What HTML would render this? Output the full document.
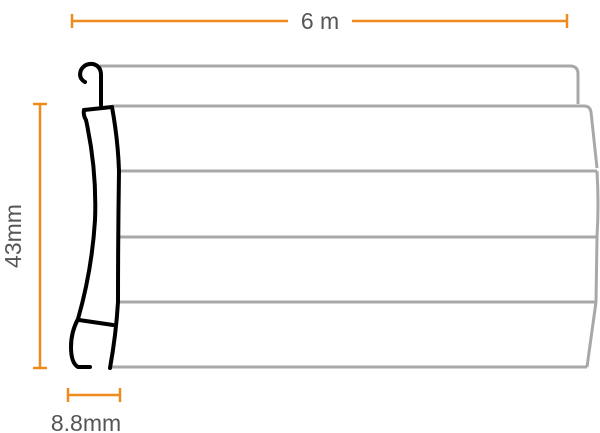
<!DOCTYPE html>
<html><head><style>html,body{margin:0;padding:0;background:#fff}svg{display:block}</style></head>
<body>
<svg width="600" height="433" viewBox="0 0 600 433" xmlns="http://www.w3.org/2000/svg">
<g stroke="#f08a1c" stroke-width="2.5" fill="none">
<line x1="72" y1="21" x2="288" y2="21"/><line x1="72" y1="14" x2="72" y2="28"/>
<line x1="352" y1="21" x2="567" y2="21"/><line x1="567" y1="14" x2="567" y2="28"/>
<line x1="40" y1="104" x2="40" y2="368"/><line x1="33" y1="104" x2="47" y2="104"/><line x1="33" y1="368" x2="47" y2="368"/>
<line x1="68" y1="395" x2="120" y2="395"/><line x1="68" y1="388" x2="68" y2="402"/><line x1="120" y1="388" x2="120" y2="402"/>
</g>
<g font-family="Liberation Sans, sans-serif" font-size="23" fill="#555">
<text x="320" y="29" text-anchor="middle">6 m</text>
<text x="86" y="431" text-anchor="middle">8.8mm</text>
<text transform="translate(21,236) rotate(-90)" text-anchor="middle">43mm</text>
</g>
<g stroke="#a8a8a8" stroke-width="3" fill="none" stroke-linejoin="round">
<path d="M100 66 L570 66 Q578 66 578 74 L578 104"/>
<line x1="112" y1="106" x2="584" y2="106"/>
<path d="M584 106 Q590 106 591 112 L597 168"/>
<line x1="119" y1="171" x2="597" y2="171"/>
<path d="M597 171 Q599 204 597 237"/>
<line x1="119" y1="237" x2="597" y2="237"/>
<path d="M597 237 L596 302"/>
<line x1="118" y1="302" x2="596" y2="302"/>
<path d="M596 302 L587 367"/>
<line x1="110" y1="367" x2="587" y2="367"/>
</g>
<g stroke="#000" stroke-width="4" fill="none" stroke-linecap="round" stroke-linejoin="round">
<path d="M85 82 Q78 78 81 70 Q85 63 93 64 Q101 66 101 75 L101 105"/>
<path d="M84 110 L112 107 Q118 140 119 171 Q118 237 118 302 Q116 335 110 368"/>
<path d="M84 110 Q83 115 86 120 Q97 170 95 220 Q92 270 78 319 Q71 332 71 347 Q71 363 78 367 L90 367"/>
<line x1="79" y1="320" x2="113" y2="325"/>
</g>
</svg>
</body></html>
